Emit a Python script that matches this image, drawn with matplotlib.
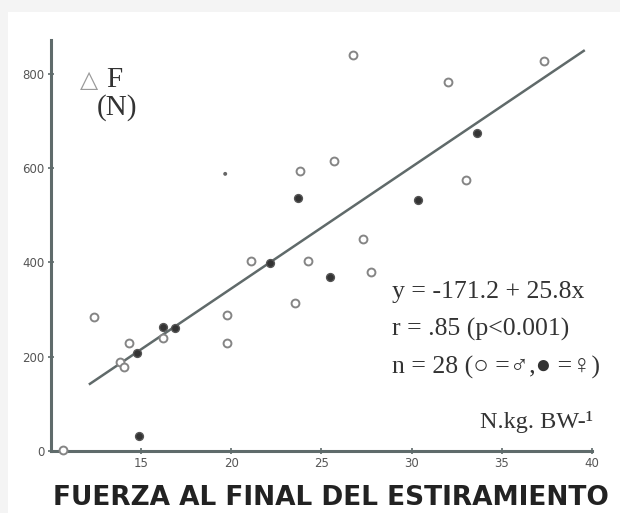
import matplotlib
matplotlib.use("Agg")
import matplotlib.pyplot as plt
from matplotlib.patches import Rectangle
import numpy as np

# Data
male_x = [26.75, 23.81, 25.70, 37.34, 32.02, 33.02, 12.39, 14.33, 13.84, 14.06,
          16.22, 21.10, 24.26, 27.31, 27.75, 23.54, 19.77, 19.77, 10.68]
male_y = [841, 594, 616, 828, 783, 575, 285, 229, 189, 178,
          240, 403, 403, 450, 380, 314, 289, 229, 2]
female_x = [23.70, 33.63, 30.35, 14.78, 16.22, 16.88, 14.89, 22.15, 25.48]
female_y = [537, 675, 533, 208, 263, 261, 32, 399, 369]
speck_x = [19.66]
speck_y = [588]

intercept = -171.2
slope = 25.8
line_x_range = [12.1, 39.6]

x_ticks = [15, 20, 25, 30, 35, 40]
y_ticks = [0, 200, 400, 600, 800]

eq_lines = ["y = -171.2 + 25.8x", "r = .85 (p<0.001)"]
unit_label = "N.kg. BW-\u00b9"
x_title = "FUERZA AL FINAL DEL ESTIRAMIENTO"

W, H = 620, 513
fig = plt.figure(figsize=(W / 100, H / 100), dpi=100, facecolor="#f4f4f4")
fig.patches.append(Rectangle((8 / W, 0), 1, 1 - 12 / H, transform=fig.transFigure,
                             facecolor="white", edgecolor="none", zorder=-10))

ax = fig.add_axes([51 / W, 62 / H, (592 - 51) / W, (451 - 40) / H])
ax.set_facecolor("none")
ax.set_xlim(10, 40)
ax.set_ylim(0, 872)

axis_col = "#5f6b6b"
for s in ["top", "right"]:
    ax.spines[s].set_visible(False)
for s in ["left", "bottom"]:
    ax.spines[s].set_color(axis_col)
    ax.spines[s].set_linewidth(2.2)

ax.set_xticks(x_ticks)
ax.set_yticks(y_ticks)
ax.tick_params(axis="both", direction="inout", length=5, width=1.2, color=axis_col,
               labelsize=8.5, labelcolor="#555555", pad=2)

# regression line
lx = np.array(line_x_range)
ax.plot(lx, intercept + slope * lx, color="#606a6a", lw=1.8, solid_capstyle="butt", zorder=2)

# points
ax.scatter(male_x, male_y, s=32, facecolor="white", edgecolor="#858585", linewidth=1.4, zorder=3,
           clip_on=False)
ax.scatter(female_x, female_y, s=32, facecolor="#333333", edgecolor="#555555", linewidth=1.0, zorder=3)
ax.scatter(speck_x, speck_y, s=8, facecolor="#666666", edgecolor="none", zorder=3)

serif = ["Liberation Serif", "DejaVu Sans"]
# ΔF (N) label
fig.text(80 / W, 1 - 80 / H, "\u25b3", fontsize=17, color="#9a9a9a", family="DejaVu Sans",
         ha="left", va="center")
fig.text(106 / W, 1 - 80 / H, "F", fontsize=21, color="#333333", family=serif,
         ha="left", va="center")
fig.text(97 / W, 1 - 108 / H, "(N)", fontsize=21, color="#333333", family=serif,
         ha="left", va="center")

# equation block
tx = 392 / W
for i, t in enumerate(eq_lines):
    fig.text(tx, 1 - (292 + 37.5 * i) / H, t, fontsize=18.5, color="#333333", family=serif,
             ha="left", va="center")
fig.text(tx, 1 - 367 / H, "n = 28 (\u25cb =\u2642,\u25cf =\u2640)", fontsize=18.5, color="#333333",
         family=serif, ha="left", va="center")
fig.text(480 / W, 1 - 422 / H, unit_label, fontsize=17.5, color="#333333", family=serif,
         ha="left", va="center")

fig.text(331 / W, 1 - 498 / H, x_title, fontsize=19, fontweight="bold", color="#222222",
         family="DejaVu Sans", ha="center", va="center")

fig.savefig("out.png", dpi=100, facecolor=fig.get_facecolor())
